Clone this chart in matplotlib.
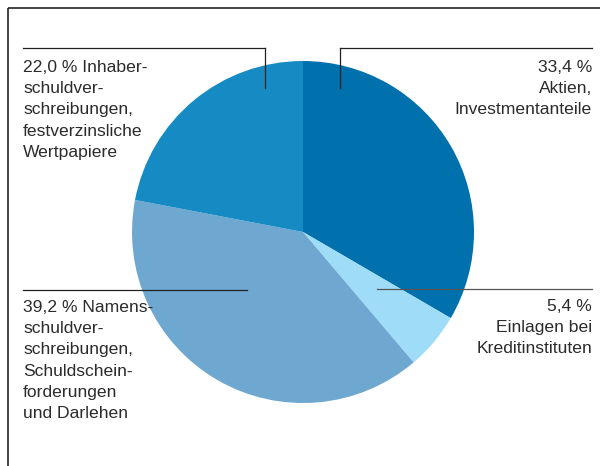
import matplotlib.pyplot as plt

plt.rcParams["font.family"] = ["Liberation Sans", "DejaVu Sans"]

# portfolio split, clockwise from 12 o'clock
shares = [33.4, 5.4, 39.2, 22.0]
share_labels = ["33,4 %", "5,4 %", "39,2 %", "22,0 %"]
captions = [
    "Aktien,\nInvestmentanteile",
    "Einlagen bei\nKreditinstituten",
    "Namens-\nschuldver-\nschreibungen,\nSchuldschein-\nforderungen\nund Darlehen",
    "Inhaber-\nschuldver-\nschreibungen,\nfestverzinsliche\nWertpapiere",
]
colors = ["#0071ad", "#9edcf7", "#6ea7d0", "#168ac2"]

W, H = 600, 466
TEXT = "#2b2b2b"


def py(y):
    # pixel row (top-down) -> data y
    return H - y


fig = plt.figure(figsize=(W / 100, H / 100), dpi=100)
ax = fig.add_axes([0, 0, 1, 1])

ax.pie(shares, colors=colors, startangle=90, counterclock=False,
       center=(303, py(232)), radius=171,
       wedgeprops={"linewidth": 0, "antialiased": True})

ax.set_xlim(0, W)
ax.set_ylim(0, H)
ax.set_aspect("equal")
ax.axis("off")

# frame on top and left
ax.plot([8, W], [py(8), py(8)], color="#222222", lw=1.2, solid_capstyle="butt")
ax.plot([8, 8], [py(8), 0], color="#222222", lw=1.2, solid_capstyle="butt")

# leader lines (pixel layout)
ax.plot([340, 592], [py(48), py(48)], color="#222222", lw=0.9)
ax.plot([340, 340], [py(48), py(88)], color="#222222", lw=0.9)
ax.plot([23, 265], [py(48), py(48)], color="#222222", lw=0.9)
ax.plot([265, 265], [py(48), py(88)], color="#222222", lw=0.9)
ax.plot([23, 247], [py(290), py(290)], color="#222222", lw=0.9)
ax.plot([377, 592], [py(289), py(289)], color="#555555", lw=0.9)

fs = 12.6
ls = 1.52
# Aktien (right aligned)
ax.text(592, py(60), share_labels[0] + "\n" + captions[0], ha="right", va="top",
        fontsize=fs, color=TEXT, linespacing=ls, multialignment="right")
# Einlagen
ax.text(592, py(299), share_labels[1] + "\n" + captions[1], ha="right", va="top",
        fontsize=fs, color=TEXT, linespacing=ls, multialignment="right")
# Namens
ax.text(23, py(300), share_labels[2] + " " + captions[2], ha="left", va="top",
        fontsize=fs, color=TEXT, linespacing=ls)
# Inhaber
ax.text(23, py(60), share_labels[3] + " " + captions[3], ha="left", va="top",
        fontsize=fs, color=TEXT, linespacing=ls)

fig.savefig("out.png", dpi=100)
